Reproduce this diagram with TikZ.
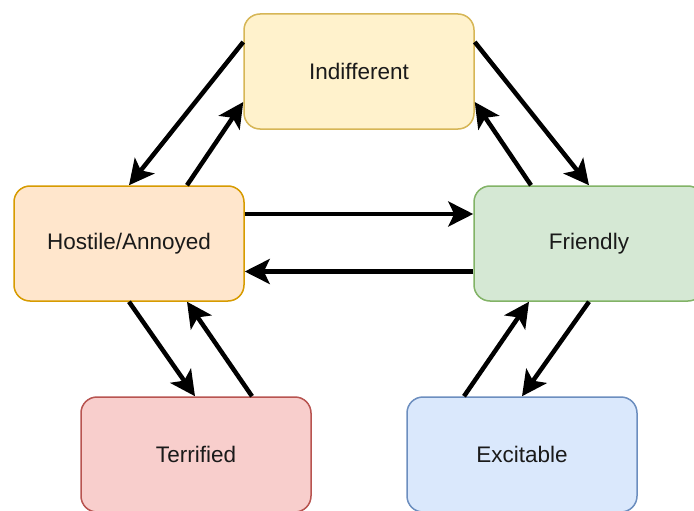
\documentclass[tikz,border=0pt]{standalone}
\usepackage{fontspec}
\setmainfont{Liberation Sans}
\usetikzlibrary{arrows.meta}
\definecolor{yfill}{HTML}{FFF2CC}\definecolor{ydraw}{HTML}{D6B656}
\definecolor{ofill}{HTML}{FFE6CC}\definecolor{odraw}{HTML}{D79B00}
\definecolor{gfill}{HTML}{D5E8D4}\definecolor{gdraw}{HTML}{82B366}
\definecolor{rfill}{HTML}{F8CECC}\definecolor{rdraw}{HTML}{B85450}
\definecolor{bfill}{HTML}{DAE8FC}\definecolor{bdraw}{HTML}{6C8EBF}
\definecolor{txt}{HTML}{1A1A1A}
\tikzset{
  statebox/.style={rectangle, rounded corners=16pt, minimum width=230pt, minimum height=115pt,
    line width=1.5pt, font=\fontsize{22.5}{26}\selectfont, text=txt, inner sep=0pt},
  conn/.style={line width=4.5pt, -{Stealth[length=25pt,width=25pt,inset=6pt]}}
}
\begin{document}
\begin{tikzpicture}[x=1pt,y=-1pt]
\useasboundingbox (0,0) rectangle (694,511);
\clip (0,0) rectangle (694,511);
\fill[white] (0,0) rectangle (694,511);
\node[statebox, fill=yfill, draw=ydraw] (ind) at (359,71.5) {Indifferent};
\node[statebox, fill=ofill, draw=odraw] (hos) at (129,243.5) {Hostile/Annoyed};
\node[statebox, fill=gfill, draw=gdraw] (fri) at (589,243.5) {Friendly};
\node[statebox, fill=rfill, draw=rdraw] (ter) at (196,454.5) {Terrified};
\node[statebox, fill=bfill, draw=bdraw] (exc) at (522,454.5) {Excitable};
\draw[conn] ([yshift=29.5pt]ind.west) -- (hos.north);
\draw[conn] ([xshift=58pt]hos.north) -- ([yshift=-30.5pt]ind.west);
\draw[conn] ([yshift=29.5pt]ind.east) -- (fri.north);
\draw[conn] ([xshift=-58pt]fri.north) -- ([yshift=-30.5pt]ind.east);
\draw[conn] ([yshift=29.5pt]hos.east) -- ([yshift=29.5pt]fri.west);
\draw[conn] ([yshift=-28pt]fri.west) -- ([yshift=-28pt]hos.east);
\draw[conn] (hos.south) -- ([xshift=-1pt]ter.north);
\draw[conn] ([xshift=56pt]ter.north) -- ([xshift=58pt]hos.south);
\draw[conn] ([xshift=-58pt]exc.north) -- ([xshift=-60pt]fri.south);
\draw[conn] (fri.south) -- (exc.north);
\end{tikzpicture}
\end{document}
